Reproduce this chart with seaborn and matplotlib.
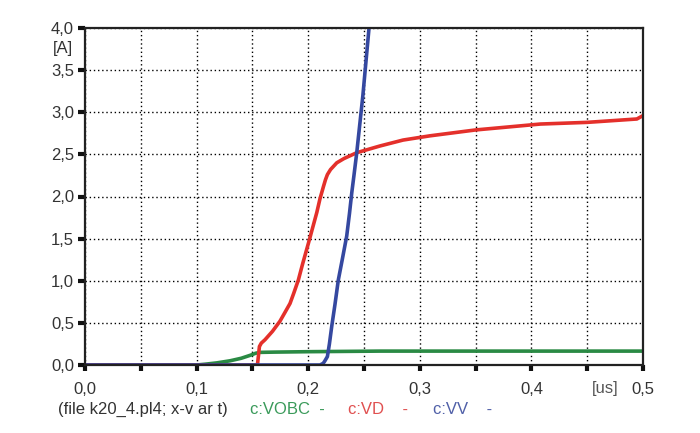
import numpy as np
import pandas as pd
import seaborn as sns
import matplotlib.pyplot as plt
from matplotlib.ticker import MultipleLocator, FuncFormatter

# time [us] / current [A]
t_vobc = [0.0, 0.10, 0.108, 0.118, 0.13, 0.14, 0.148, 0.153, 0.157, 0.17,
          0.20, 0.265, 0.35, 0.5]
i_vobc = [0.0, 0.0, 0.01, 0.025, 0.05, 0.08, 0.115, 0.14, 0.15, 0.153,
          0.158, 0.165, 0.165, 0.165]

t_vd = [0.0, 0.1545, 0.1555, 0.1563, 0.158, 0.1613, 0.168, 0.1747, 0.179,
        0.1837, 0.187, 0.1912, 0.195, 0.2003, 0.2077, 0.2105, 0.2137,
        0.2155, 0.2172, 0.220, 0.2256, 0.232, 0.2435, 0.2644, 0.285, 0.309,
        0.35, 0.408, 0.45, 0.4945, 0.5]
i_vd = [0.0, 0.0, 0.12, 0.22, 0.26, 0.30, 0.40, 0.52, 0.62,
        0.73, 0.85, 1.01, 1.20, 1.45, 1.81, 1.97, 2.12,
        2.20, 2.26, 2.32, 2.40, 2.45, 2.52, 2.60, 2.67, 2.72,
        2.79, 2.86, 2.88, 2.92, 2.96]

t_vv = [0.0, 0.2106, 0.2135, 0.2150, 0.2172, 0.219, 0.2211, 0.224, 0.2270,
        0.2305, 0.2345, 0.237, 0.2390, 0.241, 0.2435, 0.249, 0.2545]
i_vv = [0.0, 0.0, 0.02, 0.05, 0.10, 0.25, 0.46, 0.72, 1.01,
        1.25, 1.53, 1.80, 2.04, 2.25, 2.52, 3.2, 4.0]

x_ticks = [0.0, 0.1, 0.2, 0.3, 0.4, 0.5]
x_labels = ['0,0', '0,1', '0,2', '0,3', '0,4', '0,5']
y_ticks = [0.0, 0.5, 1.0, 1.5, 2.0, 2.5, 3.0, 3.5, 4.0]

sns.set_style("white")
plt.rcParams['font.family'] = ['Liberation Sans', 'DejaVu Sans']
fs = 12

fig = plt.figure(figsize=(7, 4.33), dpi=100)
ax = fig.add_axes([85 / 700, 1 - 365 / 433, 558 / 700, 337 / 433])

line_kw = dict(lw=2.6, solid_joinstyle='round', solid_capstyle='round', ax=ax)
sns.lineplot(x=t_vobc, y=i_vobc, color='#2a8a44', **line_kw)
sns.lineplot(x=t_vd, y=i_vd, color='#e4302b', **line_kw)
sns.lineplot(x=t_vv, y=i_vv, color='#3548a0', **line_kw)

ax.set_xlim(0, 0.5)
ax.set_ylim(0, 4.0)
ax.set_xticks(x_ticks)
ax.set_xticklabels(x_labels)
ax.xaxis.set_minor_locator(MultipleLocator(0.05))
ax.set_yticks(y_ticks)
ax.yaxis.set_major_formatter(FuncFormatter(lambda v, p: f"{v:.1f}".replace('.', ',')))

ax.grid(True, which='both', axis='x', color='black', lw=1, linestyle=(0, (1, 2)))
ax.grid(True, which='major', axis='y', color='black', lw=1, linestyle=(0, (1, 2)))
ax.set_axisbelow(True)

for s in ax.spines.values():
    s.set_color('#222222')
    s.set_linewidth(1.6)

ax.tick_params(axis='y', which='major', left=True, direction='out', length=5,
               width=3, color='#111111', labelsize=fs, labelcolor='#333333',
               pad=3)
ax.tick_params(axis='x', which='both', bottom=True, direction='out', length=4,
               width=3, color='#111111', labelsize=fs, labelcolor='#333333',
               pad=8)

ax.set_xlabel('')
ax.set_ylabel('')

fig.text(63 / 700, 1 - 48 / 433, '[A]', ha='center', va='center',
         fontsize=fs, color='#333333')
fig.text(605 / 700, 1 - 388 / 433, '[us]', ha='center', va='center',
         fontsize=fs, color='#555555')

fig.text(58 / 700, 1 - 409 / 433, '(file k20_4.pl4; x-v ar t)', ha='left',
         va='center', fontsize=fs, color='#333333')
fig.text(250 / 700, 1 - 409 / 433, 'c:VOBC  -', ha='left', va='center',
         fontsize=fs, color='#3a9a5a')
fig.text(348 / 700, 1 - 409 / 433, 'c:VD    -', ha='left', va='center',
         fontsize=fs, color='#e05050')
fig.text(433 / 700, 1 - 409 / 433, 'c:VV    -', ha='left', va='center',
         fontsize=fs, color='#5060a8')

fig.savefig('out.png', dpi=100)
